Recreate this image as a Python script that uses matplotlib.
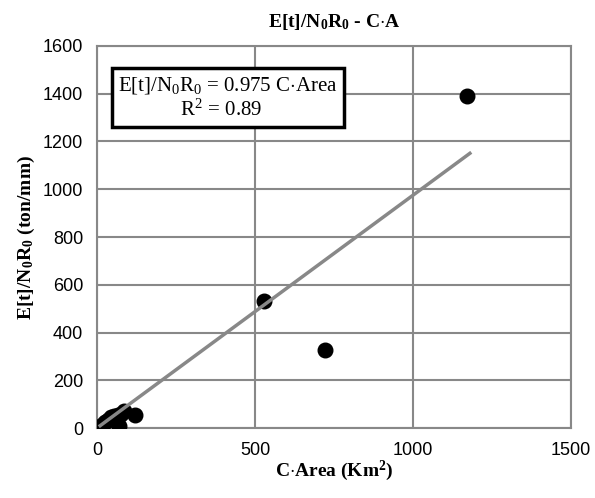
import numpy as np
import matplotlib.pyplot as plt

# data
area = [5, 15, 25, 35, 45, 55, 65, 75, 85, 70, 120, 530, 720, 1170]
enr = [5, 12, 25, 35, 45, 50, 55, 60, 70, 10, 55, 530, 325, 1390]
slope = 0.975
fit_x = [10, 1180]

plt.rcParams['font.family'] = ['Liberation Serif', 'DejaVu Serif']
plt.rcParams['mathtext.fontset'] = 'custom'
plt.rcParams['mathtext.rm'] = 'Liberation Serif'
plt.rcParams['mathtext.it'] = 'Liberation Serif:italic'
plt.rcParams['mathtext.bf'] = 'Liberation Serif:bold'

fig = plt.figure(figsize=(5.95, 4.98), dpi=100)
ax = fig.add_axes([97/595, 1-428/498, (571-97)/595, (428-46)/498])

ax.grid(True, color='#888888', lw=1.5)
ax.set_axisbelow(True)
for s in ax.spines.values():
    s.set_color('#888888')
    s.set_linewidth(1.5)

ax.scatter(area, enr, s=110, color='black', zorder=3)
fx = np.array(fit_x)
ax.plot(fx, slope*fx, color='#888888', lw=2.5, zorder=4)

ax.set_xlim(0, 1500)
ax.set_ylim(0, 1600)
ax.set_xticks([0, 500, 1000, 1500])
ax.set_yticks(range(0, 1601, 200))
ax.tick_params(length=0, pad=10, labelsize=13)
for lb in ax.get_xticklabels() + ax.get_yticklabels():
    lb.set_family('Liberation Sans')

ax.set_title(r'E[t]/N$_\mathbf{0}$R$_\mathbf{0}$ - C$\cdot$A', fontsize=14, fontweight='bold', pad=14)
ax.set_xlabel(r'C$\cdot$Area (Km$^\mathbf{2}$)', fontsize=14, fontweight='bold', labelpad=0)
ax.set_ylabel(r'E[t]/N$_\mathbf{0}$R$_\mathbf{0}$ (ton/mm)', fontsize=14, fontweight='bold', labelpad=4)

ax.text(0.045, 0.925, 'E[t]/N$_0$R$_0$ = 0.975 C$\\cdot$Area\n            R$^2$ = 0.89',
        transform=ax.transAxes, fontsize=15, va='top', ha='left',
        linespacing=1.25,
        bbox=dict(boxstyle='square,pad=0.3', fc='white', ec='black', lw=2.5), zorder=5)

fig.savefig('out.png', dpi=100)
